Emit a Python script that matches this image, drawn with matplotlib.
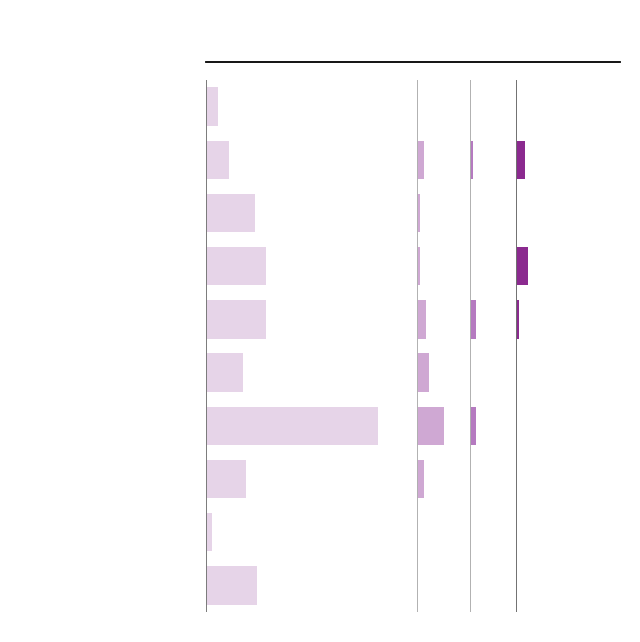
import matplotlib
matplotlib.use("Agg")
import matplotlib.pyplot as plt
from matplotlib.lines import Line2D

rows = list(range(10))
s1 = [12, 23, 49, 60, 60, 37, 172, 40, 6, 51]
s2 = [0, 7, 3, 3, 9, 12, 27, 7, 0, 0]
s3 = [0, 3, 0, 0, 6, 0, 6, 0, 0, 0]
s4 = [0, 9, 0, 12, 3, 0, 0, 0, 0, 0]

series = [s1, s2, s3, s4]
colors = ["#e6d4e8", "#cfa8d3", "#b57ac0", "#8b2a8f"]
base_colors = ["#7a7a7a", "#b0b0b0", "#b0b0b0", "#707070"]
panel_px = [(206, 417), (417, 470), (470, 516), (516, 620)]

W, H = 640, 642
fig = plt.figure(figsize=(6.4, 6.42), dpi=100)
top_px, bot_px = 80, 612

for vals, col, bcol, (x0, x1) in zip(series, colors, base_colors, panel_px):
    ax = fig.add_axes([x0 / W, 1 - bot_px / H, (x1 - x0) / W, (bot_px - top_px) / H])
    ax.barh(rows, vals, height=0.72, color=col, edgecolor="none")
    ax.set_xlim(0, x1 - x0)
    ax.set_ylim(9.5, -0.5)
    ax.axvline(0, color=bcol, lw=1.4)
    for sp in ax.spines.values():
        sp.set_visible(False)
    ax.set_xticks([])
    ax.set_yticks([])
    ax.patch.set_alpha(0)

fig.add_artist(Line2D([206 / W, 620 / W], [1 - 62 / H, 1 - 62 / H], color="black", lw=1.3))
fig.savefig("out.png", dpi=100)
